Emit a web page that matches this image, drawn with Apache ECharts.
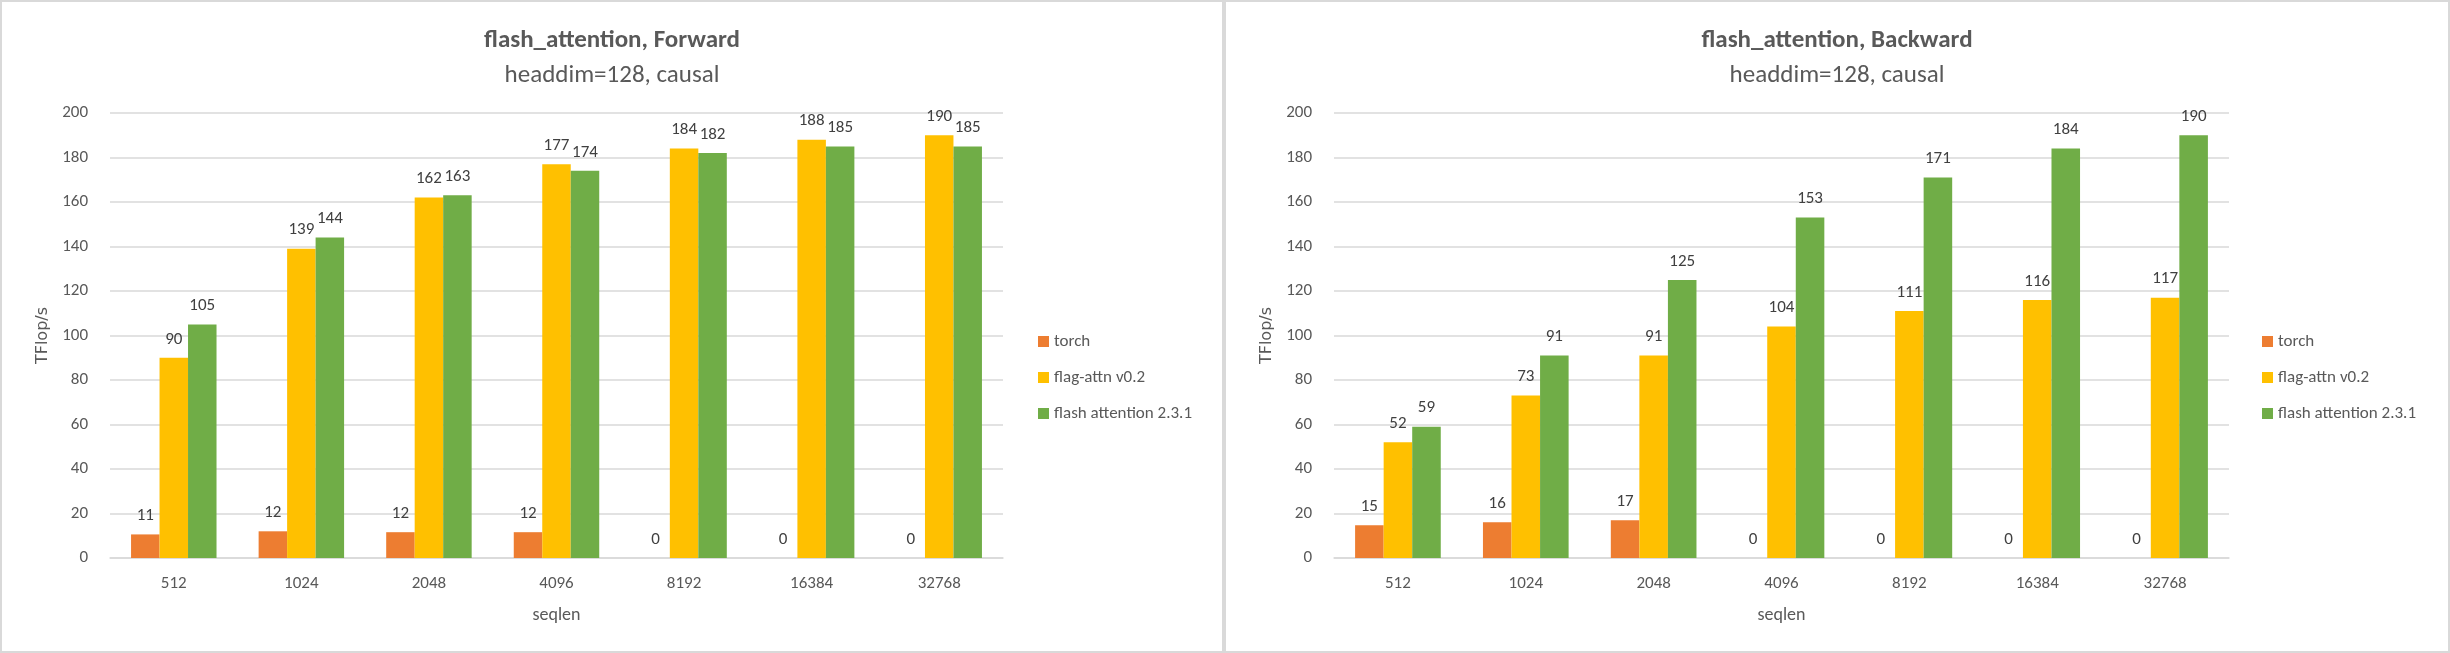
<!DOCTYPE html>
<html>
<head>
<meta charset="utf-8">
<script src="https://cdn.jsdelivr.net/npm/echarts@6/dist/echarts.min.js"></script>
<style>
  html, body { margin: 0; padding: 0; background: #ffffff; width: 2450px; height: 653px; overflow: hidden; }
  .panel { position: absolute; top: 0; height: 653px; box-sizing: border-box; border: 2px solid #d9d9d9; background: #fff; }
  #p1 { left: 0; width: 1224px; }
  #p2 { left: 1224px; width: 1226px; }
</style>
</head>
<body>
<div id="p1" class="panel"></div>
<div id="p2" class="panel"></div>
<script>
const categories = ['512', '1024', '2048', '4096', '8192', '16384', '32768'];
const seriesNames = ['torch', 'flag-attn v0.2', 'flash attention 2.3.1'];
const fwdTorch = [10.6, 12.0, 11.6, 11.6, 0, 0, 0];
const fwdFlag = [90, 139, 162, 177, 184, 188, 190];
const fwdFlash = [105, 144, 163, 174, 182, 185, 185];
const bwdTorch = [14.7, 16.1, 17.0, 0, 0, 0, 0];
const bwdFlag = [52, 73, 91, 104, 111, 116, 117];
const bwdFlash = [59, 91, 125, 153, 171, 184, 190];
const yTicks = [0, 20, 40, 60, 80, 100, 120, 140, 160, 180, 200];

const colors = ['#ED7D31', '#FFC000', '#70AD47'];
const FONT = 'Carlito, Calibri, Lato, sans-serif';
const TXT = '#595959';

function makeOption(title, sub, data) {
  return {
    animation: false,
    color: colors,
    title: {
      text: title,
      subtext: sub,
      left: 'center',
      top: 21,
      itemGap: 10,
      textStyle: { fontFamily: FONT, fontSize: 25, fontWeight: 'bold', color: TXT },
      subtextStyle: { fontFamily: FONT, fontSize: 25, color: TXT }
    },
    legend: {
      orient: 'vertical',
      left: 1031,
      top: 326,
      itemWidth: 11,
      itemHeight: 11,
      itemGap: 19,
      icon: 'rect',
      textStyle: { fontFamily: FONT, fontSize: 17, color: TXT, padding: [0, 0, 0, 0] },
      data: seriesNames
    },
    grid: { left: 108, right: 219, top: 111, bottom: 93, containLabel: false },
    xAxis: {
      type: 'category',
      data: categories,
      name: 'seqlen',
      nameLocation: 'middle',
      nameGap: 48,
      nameTextStyle: { fontFamily: FONT, fontSize: 18, color: TXT },
      axisTick: { show: false },
      axisLine: { lineStyle: { color: '#d9d9d9', width: 1.5 } },
      axisLabel: { fontFamily: FONT, fontSize: 17, color: TXT, margin: 17 }
    },
    yAxis: {
      type: 'value',
      min: yTicks[0],
      max: yTicks[yTicks.length - 1],
      interval: yTicks[1] - yTicks[0],
      name: 'TFlop/s',
      nameLocation: 'middle',
      nameGap: 58,
      nameTextStyle: { fontFamily: '"DejaVu Sans", "Open Sans", sans-serif', fontSize: 16, color: TXT },
      axisLine: { show: false },
      axisTick: { show: false },
      splitLine: { lineStyle: { color: '#d9d9d9', width: 1.5 } },
      axisLabel: { fontFamily: FONT, fontSize: 17, color: TXT, margin: 22 }
    },
    series: data.map((d, i) => ({
      name: seriesNames[i],
      type: 'bar',
      data: d,
      barGap: '0%',
      barCategoryGap: '33%',
      label: {
        show: true,
        position: 'top',
        distance: 10,
        fontFamily: FONT,
        fontSize: 17,
        color: '#404040',
        formatter: p => Math.round(p.value)
      }
    }))
  };
}

const c1 = echarts.init(document.getElementById('p1'), null, { renderer: 'canvas' });
c1.setOption(makeOption('flash_attention, Forward', 'headdim=128, causal', [fwdTorch, fwdFlag, fwdFlash]));
const c2 = echarts.init(document.getElementById('p2'), null, { renderer: 'canvas' });
c2.setOption(makeOption('flash_attention, Backward', 'headdim=128, causal', [bwdTorch, bwdFlag, bwdFlash]));
</script>
</body>
</html>
